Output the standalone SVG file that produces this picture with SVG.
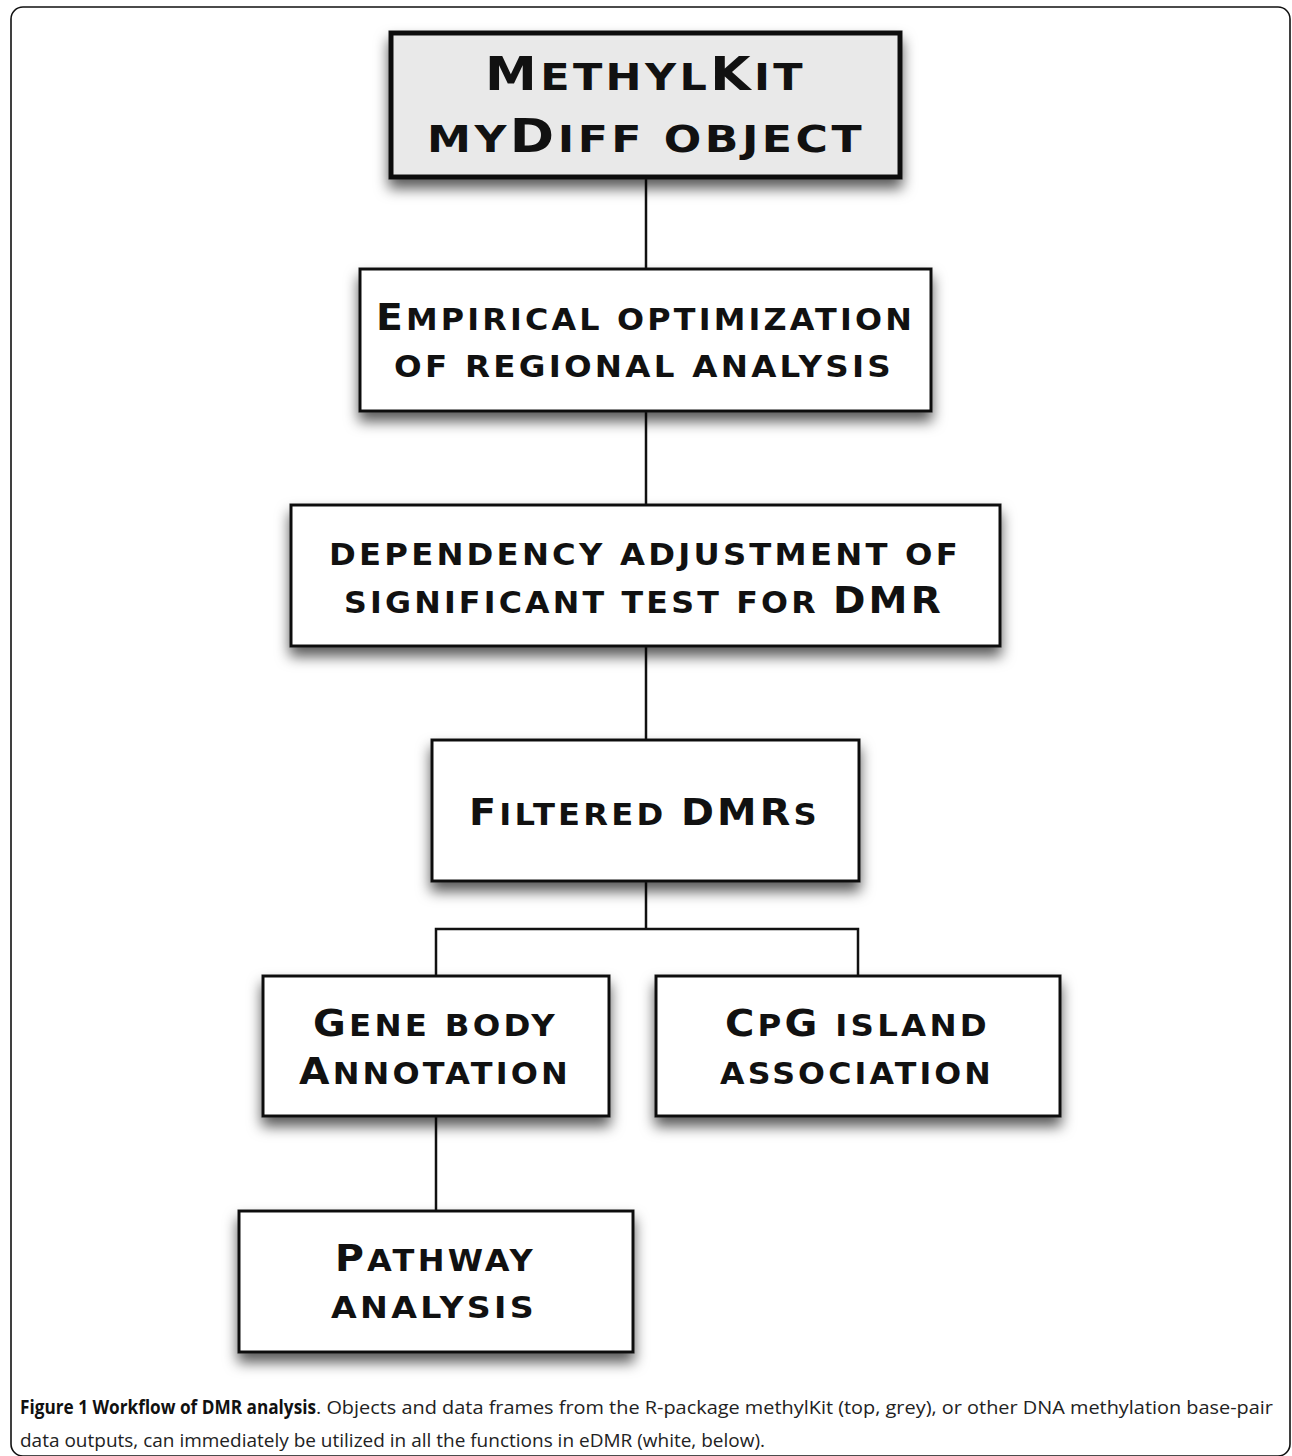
<svg xmlns="http://www.w3.org/2000/svg" width="1292" height="1456" viewBox="0 0 1292 1456">
<style>
.frame{fill:none;stroke:#111;stroke-width:1.6}
.box{fill:#fff;stroke:#111;stroke-width:3}
.title{fill:#e9e9e9;stroke:#111;stroke-width:5}
.nt{font-family:"DejaVu Sans","Liberation Sans",sans-serif;font-weight:bold;fill:#111;letter-spacing:3px}
.c{font-size:37px}
.s{font-size:30px}
.tc{font-size:46px}
.ts{font-size:38px}
.conn{fill:none;stroke:#111;stroke-width:2.5}
.cap{font-family:"Open Sans","Noto Sans",sans-serif;font-size:19px;fill:#222}
.capb{font-weight:bold;fill:#111}
</style>
<defs>
<filter id="sh" x="-10%" y="-10%" width="120%" height="140%">
<feDropShadow dx="0" dy="9" stdDeviation="7" flood-color="#000" flood-opacity="0.65"/>
</filter>
</defs>
<rect x="11" y="7" width="1279" height="1449" rx="12" class="frame"/>
<g id="connectors">
<line x1="646" y1="177" x2="646" y2="269" class="conn"/>
<line x1="646" y1="411" x2="646" y2="505" class="conn"/>
<line x1="646" y1="646" x2="646" y2="740" class="conn"/>
<line x1="646" y1="881" x2="646" y2="929" class="conn"/>
<polyline points="436,976 436,929 858,929 858,976" class="conn"/>
<line x1="436" y1="1116" x2="436" y2="1211" class="conn"/>
</g>
<g id="n1">
<rect x="391" y="33" width="509" height="144" class="title" filter="url(#sh)"/>
<text class="nt" x="485" y="90" textLength="321" lengthAdjust="spacingAndGlyphs"><tspan class="tc">M</tspan><tspan class="ts">ETHYL</tspan><tspan class="tc">K</tspan><tspan class="ts">IT</tspan></text>
<text class="nt" x="427" y="152" textLength="438" lengthAdjust="spacingAndGlyphs"><tspan class="ts">MY</tspan><tspan class="tc">D</tspan><tspan class="ts">IFF OBJECT</tspan></text>
</g>
<g id="n2">
<rect x="360" y="269" width="571" height="142" class="box" filter="url(#sh)"/>
<text class="nt" x="376" y="330" textLength="539" lengthAdjust="spacingAndGlyphs"><tspan class="c">E</tspan><tspan class="s">MPIRICAL OPTIMIZATION</tspan></text>
<text class="nt s" x="394" y="377" textLength="500" lengthAdjust="spacingAndGlyphs">OF REGIONAL ANALYSIS</text>
</g>
<g id="n3">
<rect x="291" y="505" width="709" height="141" class="box" filter="url(#sh)"/>
<text class="nt s" x="329" y="565" textLength="632" lengthAdjust="spacingAndGlyphs">DEPENDENCY ADJUSTMENT OF</text>
<text class="nt" x="344" y="613" textLength="600" lengthAdjust="spacingAndGlyphs"><tspan class="s">SIGNIFICANT TEST FOR </tspan><tspan class="c">DMR</tspan></text>
</g>
<g id="n4">
<rect x="432" y="740" width="427" height="141" class="box" filter="url(#sh)"/>
<text class="nt" x="469" y="825" textLength="351" lengthAdjust="spacingAndGlyphs"><tspan class="c">F</tspan><tspan class="s">ILTERED </tspan><tspan class="c">DMR</tspan><tspan class="s">S</tspan></text>
</g>
<g id="n5">
<rect x="263" y="976" width="346" height="140" class="box" filter="url(#sh)"/>
<text class="nt" x="313" y="1036" textLength="245" lengthAdjust="spacingAndGlyphs"><tspan class="c">G</tspan><tspan class="s">ENE BODY</tspan></text>
<text class="nt" x="299" y="1084" textLength="272" lengthAdjust="spacingAndGlyphs"><tspan class="c">A</tspan><tspan class="s">NNOTATION</tspan></text>
</g>
<g id="n6">
<rect x="656" y="976" width="404" height="140" class="box" filter="url(#sh)"/>
<text class="nt" x="725" y="1036" textLength="265" lengthAdjust="spacingAndGlyphs"><tspan class="c">C</tspan><tspan class="s">P</tspan><tspan class="c">G</tspan><tspan class="s"> ISLAND</tspan></text>
<text class="nt s" x="720" y="1084" textLength="274" lengthAdjust="spacingAndGlyphs">ASSOCIATION</text>
</g>
<g id="n7">
<rect x="239" y="1211" width="394" height="141" class="box" filter="url(#sh)"/>
<text class="nt" x="335" y="1271" textLength="201" lengthAdjust="spacingAndGlyphs"><tspan class="c">P</tspan><tspan class="s">ATHWAY</tspan></text>
<text class="nt s" x="331" y="1318" textLength="206" lengthAdjust="spacingAndGlyphs">ANALYSIS</text>
</g>
<g id="caption">
<text class="cap capb" x="20" y="1414" textLength="296" lengthAdjust="spacingAndGlyphs">Figure 1 Workflow of DMR analysis</text>
<text class="cap" x="316" y="1414" textLength="957" lengthAdjust="spacingAndGlyphs">. Objects and data frames from the R-package methylKit (top, grey), or other DNA methylation base-pair</text>
<text class="cap" x="20" y="1447" textLength="745" lengthAdjust="spacingAndGlyphs">data outputs, can immediately be utilized in all the functions in eDMR (white, below).</text>
</g>
</svg>
